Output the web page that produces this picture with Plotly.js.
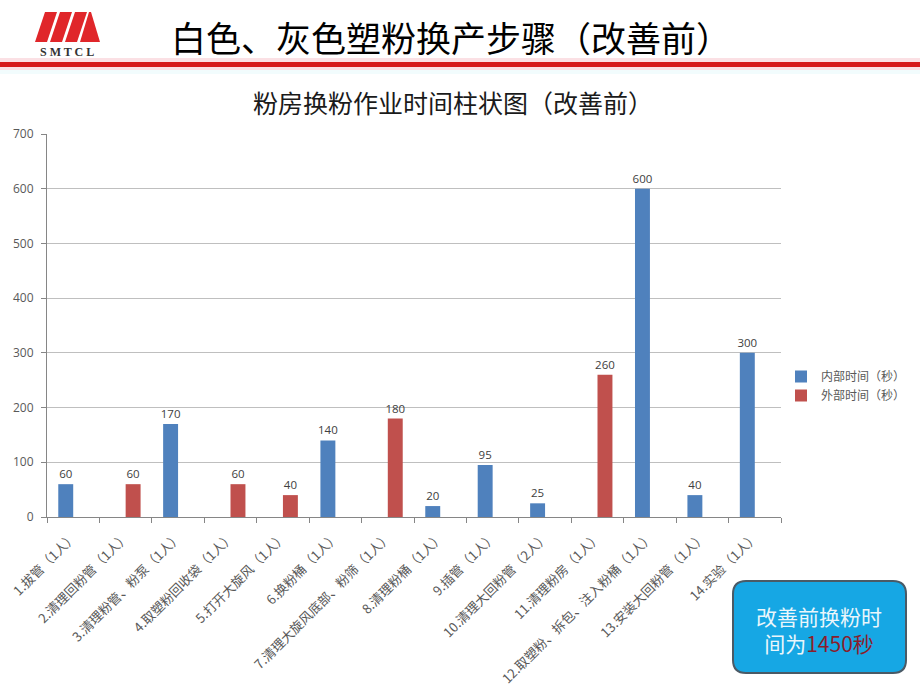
<!DOCTYPE html>
<html>
<head>
<meta charset="utf-8">
<script src="https://cdn.plot.ly/plotly-3.0.1.min.js"></script>
<style>
html,body{margin:0;padding:0;background:#fff;}
#chart{width:920px;height:690px;}
</style>
</head>
<body>
<div id="chart"></div>
<script>
// ---- data ----
const categories = [
  "1.拔管（1人）",
  "2.清理回粉管（1人）",
  "3.清理粉管、粉泵（1人）",
  "4.取塑粉回收袋（1人）",
  "5.打开大旋风（1人）",
  "6.换粉桶（1人）",
  "7.清理大旋风底部、粉筛（1人）",
  "8.清理粉桶（1人）",
  "9.插管（1人）",
  "10.清理大回粉管（2人）",
  "11.清理粉房（1人）",
  "12.取塑粉、拆包、注入粉桶（1人）",
  "13.安装大回粉管（1人）",
  "14.实验（1人）"
];
const internalName = "内部时间（秒）";
const externalName = "外部时间（秒）";
const internalTime = [60, null, 170, null, null, 140, null, 20, 95, 25, null, 600, 40, 300];
const externalTime = [null, 60, null, 60, 40, null, 180, null, null, null, 260, null, null, null];
const yTicks = [0, 100, 200, 300, 400, 500, 600, 700];
const pageTitle = "白色、灰色塑粉换产步骤（改善前）";
const chartTitle = "粉房换粉作业时间柱状图（改善前）";
const totalLine1 = "改善前换粉时";
const totalLine2a = "间为";
const totalLine2b = "1450秒";

// ---- pixel helpers (plot area: x 47..781, y 134..517) ----
const L = 47, R = 781, T = 134, B = 517;
const W = R - L, H = B - T;
const px = x => (x - L) / W;
const py = y => (B - y) / H;

const CJK = '"Noto Sans CJK SC", "Noto Sans", sans-serif';
const NUM = '"Open Sans", "Liberation Sans", sans-serif';

const traces = [
  {
    type: 'bar', name: internalName, x: categories, y: internalTime,
    marker: {color: '#4F81BD'},
    text: internalTime.map(v => v == null ? '' : String(v)),
    textposition: 'outside', cliponaxis: false, constraintext: 'none',
    textfont: {family: NUM, size: 11.5, color: '#404040'},
    hoverinfo: 'none'
  },
  {
    type: 'bar', name: externalName, x: categories, y: externalTime,
    marker: {color: '#C0504D'},
    text: externalTime.map(v => v == null ? '' : String(v)),
    textposition: 'outside', cliponaxis: false, constraintext: 'none',
    textfont: {family: NUM, size: 11.5, color: '#404040'},
    hoverinfo: 'none'
  }
];

function poly(pts) {
  return 'M ' + pts.map(p => px(p[0]) + ',' + py(p[1])).join(' L ') + ' Z';
}
function roundRect(x0, y0, x1, y1, r) {
  const P = (x, y) => px(x) + ',' + py(y);
  return 'M ' + P(x0 + r, y0) + ' L ' + P(x1 - r, y0) + ' Q ' + P(x1, y0) + ' ' + P(x1, y0 + r) +
    ' L ' + P(x1, y1 - r) + ' Q ' + P(x1, y1) + ' ' + P(x1 - r, y1) +
    ' L ' + P(x0 + r, y1) + ' Q ' + P(x0, y1) + ' ' + P(x0, y1 - r) +
    ' L ' + P(x0, y0 + r) + ' Q ' + P(x0, y0) + ' ' + P(x0 + r, y0) + ' Z';
}

const shapes = [
  // header band
  {type: 'rect', xref: 'paper', yref: 'paper', x0: px(0), x1: px(920), y0: py(74), y1: py(67), fillcolor: '#F2FCFD', line: {width: 0}, layer: 'below'},
  {type: 'rect', xref: 'paper', yref: 'paper', x0: px(0), x1: px(920), y0: py(70), y1: py(58), fillcolor: '#FBE0E4', line: {width: 0}, layer: 'below'},
  {type: 'rect', xref: 'paper', yref: 'paper', x0: px(0), x1: px(920), y0: py(67), y1: py(62), fillcolor: '#D6191B', line: {width: 0}, layer: 'below'},
  // logo
  {type: 'path', xref: 'paper', yref: 'paper', path: poly([[35,42],[47,42],[57,12],[45,12]]), fillcolor: '#E0262A', line: {width: 0}},
  {type: 'path', xref: 'paper', yref: 'paper', path: poly([[50,42],[62,42],[72,12],[60,12]]), fillcolor: '#E0262A', line: {width: 0}},
  {type: 'path', xref: 'paper', yref: 'paper', path: poly([[65,42],[77,42],[87,12],[75,12]]), fillcolor: '#E0262A', line: {width: 0}},
  {type: 'path', xref: 'paper', yref: 'paper', path: poly([[80,42],[100,42],[91,12],[89,12]]), fillcolor: '#E0262A', line: {width: 0}},
  // summary box
  {type: 'path', xref: 'paper', yref: 'paper', path: roundRect(733, 581, 906, 673, 13), fillcolor: '#16A7E4', line: {color: '#4A5A66', width: 2}}
];

const annotations = [
  {xref: 'paper', yref: 'paper', x: px(67), y: py(52), text: '<b>S M T C L</b>', showarrow: false,
   font: {family: '"Liberation Serif", "DejaVu Serif", serif', size: 12, color: '#333333'}, xanchor: 'center', yanchor: 'middle'},
  {xref: 'paper', yref: 'paper', x: px(451), y: py(36), text: pageTitle, showarrow: false,
   font: {family: CJK, size: 35, color: '#000000'}, xanchor: 'center', yanchor: 'middle'},
  {xref: 'paper', yref: 'paper', x: px(453), y: py(102), text: chartTitle, showarrow: false,
   font: {family: CJK, size: 25, color: '#1a1a1a'}, xanchor: 'center', yanchor: 'middle'},
  {xref: 'paper', yref: 'paper', x: px(819), y: py(629), showarrow: false,
   text: totalLine1 + '<br>' + totalLine2a + '<span style="color:#8A1E2C">' + totalLine2b + '</span>',
   font: {family: CJK, size: 21, color: '#EAF6FB'}, xanchor: 'center', yanchor: 'middle', align: 'center'}
];

const layout = {
  width: 920, height: 690,
  paper_bgcolor: '#ffffff', plot_bgcolor: '#ffffff',
  margin: {l: L, r: 920 - R, t: T, b: 690 - B, pad: 0, autoexpand: false},
  barmode: 'group', bargap: 0.43, bargroupgap: 0,
  showlegend: true,
  legend: {x: px(781), y: py(362), xanchor: 'left', yanchor: 'top',
    font: {family: CJK, size: 12, color: '#595959'}, tracegroupgap: 4, itemwidth: 30, bgcolor: 'rgba(0,0,0,0)'},
  xaxis: {
    type: 'category', tickangle: -45, tickson: 'boundaries', ticks: 'outside', ticklen: 5, tickcolor: '#868686',
    showline: true, linecolor: '#868686', linewidth: 1, showgrid: false, automargin: false, ticklabelstandoff: 6,
    tickfont: {family: CJK, size: 13, color: '#595959'}
  },
  yaxis: {
    range: [0, 700], tickvals: yTicks, ticks: 'outside', ticklen: 5, tickcolor: '#868686',
    showline: true, linecolor: '#868686', linewidth: 1, ticklabelstandoff: 5,
    showgrid: true, gridcolor: '#BFBFBF', gridwidth: 1, zeroline: false, automargin: false,
    tickfont: {family: NUM, size: 12, color: '#595959'}
  },
  shapes: shapes,
  annotations: annotations,
  font: {family: CJK}
};

Plotly.newPlot('chart', traces, layout, {displayModeBar: false, staticPlot: true});
</script>
</body>
</html>
